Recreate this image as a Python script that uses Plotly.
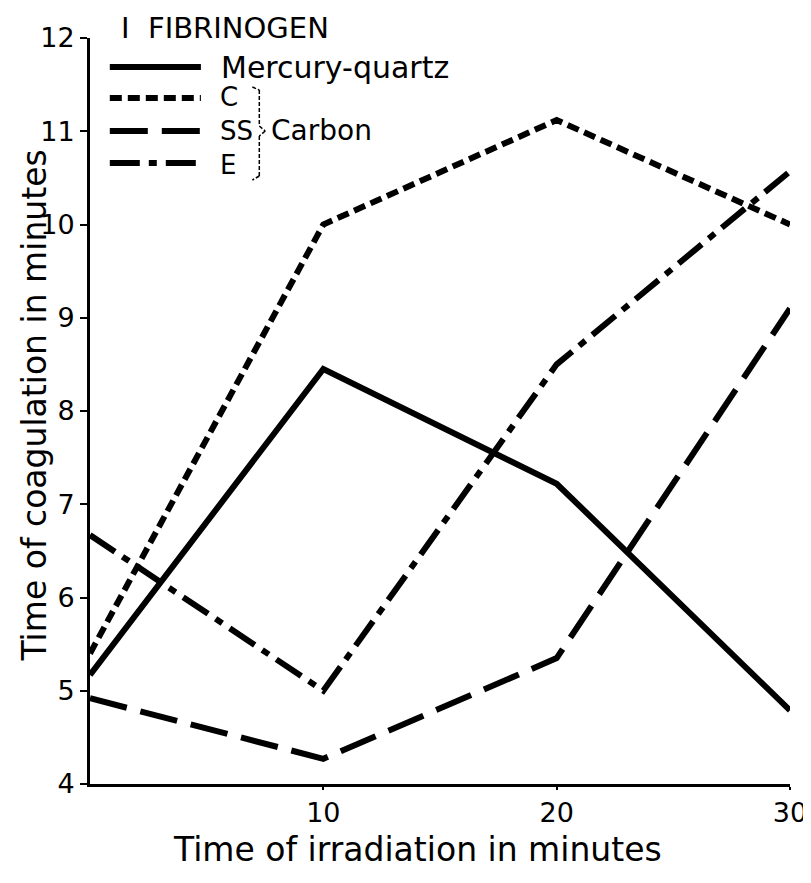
import plotly.graph_objects as go

# ---- data ----
irradiation_min = [0, 10, 20, 30]
mercury_quartz = [5.17, 8.45, 7.22, 4.79]
carbon_C = [5.40, 10.0, 11.12, 10.0]
carbon_SS = [4.92, 4.27, 5.35, 9.10]
carbon_E = [6.67, 5.0, 8.5, 10.57]

x_ticks = [10, 20, 30]
y_ticks = [4, 5, 6, 7, 8, 9, 10, 11, 12]

series_names = ["Mercury-quartz", "C", "SS", "E"]
dash_styles = ["solid", "12px,6px", "38px,14px", "30px,9px,8px,9px"]

W, H = 811, 883
L, R, T, B = 82, 22, 30, 107
PW, PH = W - L - R, H - T - B
FONT = "DejaVu Sans"


def px(xp):
    return (xp - L) / PW


def py(yp):
    return (H - B - yp) / PH


fig = go.Figure()
for name, ys, dash in zip(series_names, [mercury_quartz, carbon_C, carbon_SS, carbon_E], dash_styles):
    fig.add_trace(go.Scatter(x=irradiation_min, y=ys, mode="lines", name=name,
                             line=dict(color="black", width=6, dash=dash), showlegend=False))

fig.update_layout(
    width=W, height=H, margin=dict(l=L, r=R, t=T, b=B),
    paper_bgcolor="white", plot_bgcolor="white",
    font=dict(family=FONT, color="black"),
)
fig.update_xaxes(range=[0, 30], tickvals=x_ticks, ticktext=[str(v) for v in x_ticks],
                 showgrid=False, zeroline=False, showline=True, linecolor="black", linewidth=3,
                 ticks="outside", ticklen=3, tickwidth=2, tickcolor="black",
                 ticklabeloverflow="allow", tickfont=dict(size=27, family=FONT))
fig.update_yaxes(range=[4, 12], tickvals=y_ticks, ticktext=[str(v) for v in y_ticks],
                 showgrid=False, zeroline=False, showline=True, linecolor="black", linewidth=3,
                 ticks="outside", ticklen=7, tickwidth=2, tickcolor="black",
                 ticklabeloverflow="allow", tickfont=dict(size=27, family=FONT))

shapes = []
annotations = []
# axis titles
annotations.append(dict(text="Time of irradiation in minutes", xref="paper", yref="paper",
                        x=px(413), y=py(841), xanchor="center", yanchor="middle", showarrow=False,
                        font=dict(size=33, family=FONT)))
annotations.append(dict(text="Time of coagulation in minutes", xref="paper", yref="paper",
                        x=px(25), y=py(398), xanchor="center", yanchor="middle", showarrow=False,
                        textangle=-90, font=dict(size=33, family=FONT)))

# ---- custom legend ----
annotations.append(dict(text="I  FIBRINOGEN", xref="paper", yref="paper", x=px(111), y=py(20),
                        xanchor="left", yanchor="middle", showarrow=False, font=dict(size=29, family=FONT)))
leg_y = [59, 90, 123, 155]
for dash, ly in zip(dash_styles, leg_y):
    shapes.append(dict(type="line", xref="paper", yref="paper", x0=px(102), x1=px(194), y0=py(ly), y1=py(ly),
                       line=dict(color="black", width=6, dash=dash)))
annotations.append(dict(text=series_names[0], xref="paper", yref="paper", x=px(212), y=py(leg_y[0]),
                        xanchor="left", yanchor="middle", showarrow=False, font=dict(size=30, family=FONT)))
annotations.append(dict(text="<br>".join(series_names[1:]), xref="paper", yref="paper", x=px(211),
                        y=py((leg_y[1] + leg_y[3]) / 2), xanchor="left", yanchor="middle", align="left",
                        showarrow=False, font=dict(size=26, family=FONT)))
# brace for Carbon group
bx = 253
brace = [((bx - 7, 79), (bx, 82)), ((bx, 82), (bx, 118)), ((bx, 118), (bx + 6, 123)),
         ((bx + 6, 123), (bx, 128)), ((bx, 128), (bx, 168)), ((bx, 168), (bx - 7, 172))]
for (x0, y0), (x1, y1) in brace:
    shapes.append(dict(type="line", xref="paper", yref="paper", x0=px(x0), y0=py(y0), x1=px(x1), y1=py(y1),
                       line=dict(color="black", width=1.5, dash="4px,2px")))
annotations.append(dict(text="Carbon", xref="paper", yref="paper", x=px(263), y=py(123),
                        xanchor="left", yanchor="middle", showarrow=False, font=dict(size=28, family=FONT)))

fig.update_layout(shapes=shapes, annotations=annotations)
fig.write_html("out.html")
